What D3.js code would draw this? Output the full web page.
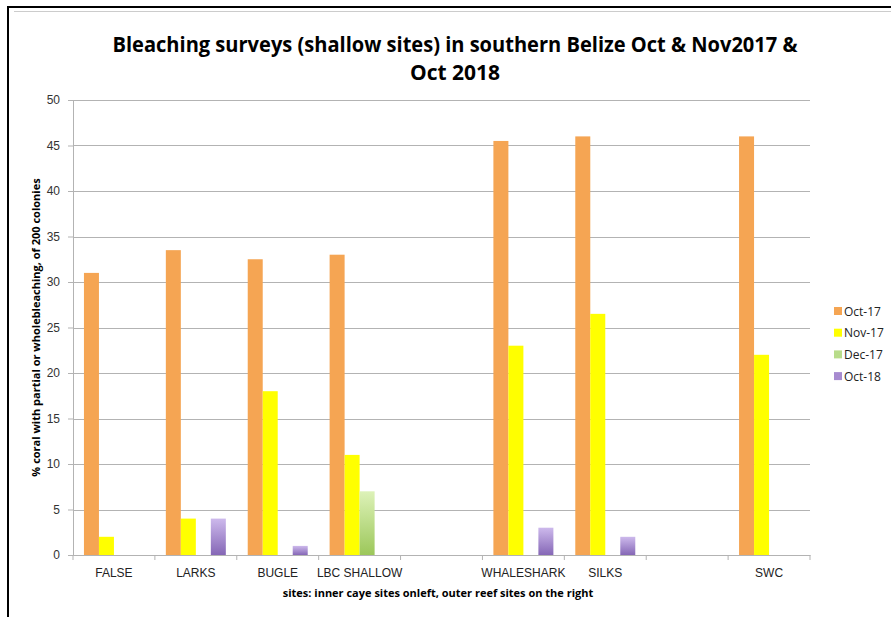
<!DOCTYPE html>
<html>
<head>
    <meta charset="utf-8">
    <title>Bleaching surveys</title>
    <style>
        html, body { margin: 0; padding: 0; background: #fff; }
        svg { display: block; font-family: "Open Sans", "Noto Sans", sans-serif; }
    </style>
    <script src="https://d3js.org/d3.v7.min.js"></script>
</head>
<body>
    <svg id="chart"></svg>
    <script>
        // data
        const sites = ["FALSE", "LARKS", "BUGLE", "LBC SHALLOW", "", "WHALESHARK", "SILKS", " ", "SWC"];
        const seriesNames = ["Oct-17", "Nov-17", "Dec-17", "Oct-18"];
        const oct17 = [31, 33.5, 32.5, 33, null, 45.5, 46, null, 46];
        const nov17 = [2, 4, 18, 11, null, 23, 26.5, null, 22];
        const dec17 = [null, null, null, 7, null, null, null, null, null];
        const oct18 = [null, 4, 1, null, null, 3, 2, null, null];
        const yTicks = [0, 5, 10, 15, 20, 25, 30, 35, 40, 45, 50];

        const seriesValues = [oct17, nov17, dec17, oct18];
        const fills = ["#F5A553", "#FFFF00", "url(#gGreen)", "url(#gPurple)"];
        const legendFills = ["#F5A553", "#FFFF00", "#B8DC8A", "#A78BD0"];

        const W = 891, H = 617;
        const margin = { top: 100, right: 81, bottom: 62, left: 73 };
        const width = W - margin.left - margin.right;
        const height = H - margin.top - margin.bottom;

        const svg = d3.select("#chart").attr("width", W).attr("height", H);

        const defs = svg.append("defs");
        const g1 = defs.append("linearGradient").attr("id", "gGreen").attr("x1", 0).attr("y1", 0).attr("x2", 0).attr("y2", 1);
        g1.append("stop").attr("offset", "0%").attr("stop-color", "#DDF2B8");
        g1.append("stop").attr("offset", "100%").attr("stop-color", "#9CC75A");
        const g2 = defs.append("linearGradient").attr("id", "gPurple").attr("x1", 0).attr("y1", 0).attr("x2", 0).attr("y2", 1);
        g2.append("stop").attr("offset", "0%").attr("stop-color", "#CDB9EC");
        g2.append("stop").attr("offset", "100%").attr("stop-color", "#8567B6");

        // frame lines
        svg.append("line").attr("x1", 7).attr("x2", W).attr("y1", 7).attr("y2", 7)
            .attr("stroke", "#000").attr("stroke-width", 2);
        svg.append("line").attr("x1", 14).attr("x2", W).attr("y1", 11.5).attr("y2", 11.5)
            .attr("stroke", "#ccc").attr("stroke-width", 1);
        svg.append("line").attr("x1", 8).attr("x2", 8).attr("y1", 6).attr("y2", H)
            .attr("stroke", "#000").attr("stroke-width", 2);

        const chart = svg.append("g").attr("transform", "translate(" + margin.left + "," + margin.top + ")");

        const x = d3.scaleBand().domain(sites).range([0, width]).paddingInner(0).paddingOuter(0);
        const x1 = d3.scaleBand().domain(seriesNames).range([0, x.bandwidth()]).paddingOuter(0.73).paddingInner(0);
        const y = d3.scaleLinear().domain([0, 50]).range([height, 0]);

        // gridlines
        chart.append("g")
            .selectAll("line")
            .data(yTicks)
            .enter()
            .append("line")
            .attr("x1", 0).attr("x2", width)
            .attr("y1", d => Math.round(y(d)) + 0.5).attr("y2", d => Math.round(y(d)) + 0.5)
            .attr("stroke", "#b3b3b3").attr("stroke-width", 1);

        // y axis
        const yAxis = chart.append("g")
            .call(d3.axisLeft(y).tickValues(yTicks).tickSize(5).tickPadding(8));
        yAxis.select(".domain").attr("stroke", "#b3b3b3");
        yAxis.selectAll(".tick line").attr("stroke", "#b3b3b3");
        yAxis.selectAll("text").attr("font-size", "12px").attr("fill", "#333");

        // bars
        seriesNames.forEach(function(name, i) {
            const rows = sites.map((s, j) => ({ site: s, v: seriesValues[i][j] })).filter(d => d.v !== null);
            chart.selectAll(".bar" + i)
                .data(rows)
                .enter()
                .append("rect")
                .attr("class", "bar" + i)
                .attr("x", d => x(d.site) + x1(name))
                .attr("width", x1.bandwidth())
                .attr("y", d => y(d.v))
                .attr("height", d => height - y(d.v))
                .attr("fill", fills[i]);
        });

        // x axis
        const xAxis = chart.append("g")
            .attr("transform", "translate(0," + height + ")")
            .call(d3.axisBottom(x).tickSize(0).tickPadding(13));
        xAxis.select(".domain").attr("stroke", "#b3b3b3");
        xAxis.selectAll("text").attr("font-size", "12px").attr("fill", "#222");
        // category dividers
        chart.append("g")
            .selectAll("line")
            .data(sites.map(s => x(s)).concat([width]))
            .enter()
            .append("line")
            .attr("x1", d => d).attr("x2", d => d)
            .attr("y1", height).attr("y2", height + 5)
            .attr("stroke", "#b3b3b3");

        // titles
        svg.append("text")
            .attr("x", 455).attr("y", 52)
            .attr("text-anchor", "middle")
            .attr("font-size", "21px").attr("font-weight", "bold")
            .attr("textLength", 685).attr("lengthAdjust", "spacingAndGlyphs")
            .text("Bleaching surveys (shallow sites) in southern Belize Oct & Nov2017 &");
        svg.append("text")
            .attr("x", 455).attr("y", 80)
            .attr("text-anchor", "middle")
            .attr("font-size", "21px").attr("font-weight", "bold")
            .text("Oct 2018");

        svg.append("text")
            .attr("transform", "translate(40," + (margin.top + height / 2) + ") rotate(-90)")
            .attr("text-anchor", "middle")
            .attr("font-size", "11px").attr("font-weight", "bold")
            .text("% coral with partial or wholebleaching, of 200 colonies");

        svg.append("text")
            .attr("x", 438).attr("y", 597)
            .attr("text-anchor", "middle")
            .attr("font-size", "11px").attr("font-weight", "bold")
            .text("sites: inner caye sites onleft, outer reef sites on the right");

        // legend
        const legend = svg.append("g").attr("transform", "translate(834,307)");
        seriesNames.forEach(function(name, i) {
            const row = legend.append("g").attr("transform", "translate(0," + (i * 21.7) + ")");
            row.append("rect").attr("width", 8).attr("height", 8).attr("fill", legendFills[i]);
            row.append("text").attr("x", 10).attr("y", 8.5)
                .attr("font-size", "12px").attr("fill", "#222").text(name);
        });
    </script>
</body>
</html>
